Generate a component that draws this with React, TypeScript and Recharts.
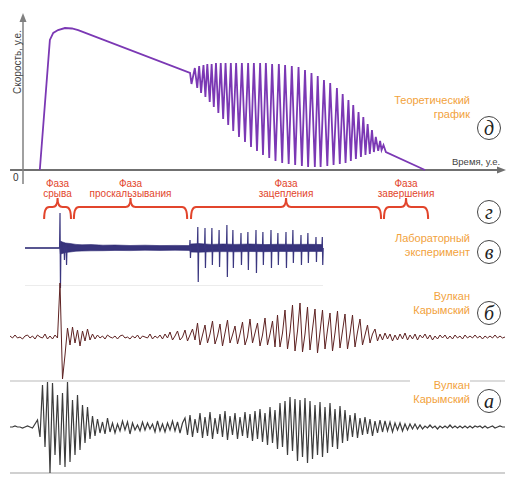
import React from "react";
import {
  LineChart,
  ComposedChart,
  Line,
  Area,
  XAxis,
  YAxis,
  ReferenceLine,
  ReferenceDot,
  ReferenceArea,
} from "recharts";

// (д) theoretical graph, time / speed in arbitrary units
const theoryTime = [
  3.5, 5.6, 6.3, 7.3, 8.75, 10.2, 11.5, 34.8, 35.1,
  35.8, 36.3, 36.7, 37.1, 37.6, 38.0, 38.4, 38.9, 39.3, 39.75,
  40.2, 40.7, 41.2, 41.7, 42.2, 42.75, 43.3, 43.8, 44.4, 45.0,
  45.6, 46.25, 46.9, 47.5, 48.1, 48.75, 49.4, 50.0, 50.6, 51.3,
  51.9, 52.6, 53.3, 54.0, 54.6, 55.35, 56.0, 56.7, 57.4, 58.1,
  58.75, 59.4, 60.1, 60.8, 61.4, 62.0, 62.7, 63.4, 64.0, 64.7,
  65.4, 66.0, 66.6, 67.2, 67.8, 68.3, 68.8, 69.35, 69.9, 70.4,
  70.9, 71.35, 71.8, 72.25, 72.7, 73.1, 73.5, 74.0, 74.4, 74.7,
  75.1, 75.6, 83.75,
];
const theorySpeed = [
  0, 83.9, 88.4, 90.3, 91.6, 91.3, 90.3, 62.6, 55.5,
  65.8, 52.9, 67.1, 49.7, 67.7, 47.1, 68.4, 43.9, 68.4, 40.6,
  69.0, 36.8, 69.0, 32.9, 69.0, 29.0, 69.0, 25.2, 69.0, 21.3,
  69.0, 18.1, 69.0, 14.8, 69.0, 12.3, 69.0, 9.7, 69.0, 7.7,
  68.4, 5.8, 68.4, 4.5, 67.7, 3.9, 67.1, 3.2, 66.5, 2.6,
  64.5, 1.9, 62.6, 1.9, 60.6, 1.9, 58.1, 2.6, 56.1, 3.2,
  52.9, 3.9, 49.0, 4.5, 45.2, 5.8, 41.9, 7.1, 37.4, 8.4,
  34.2, 9.7, 29.7, 10.3, 25.8, 11.6, 21.3, 12.3, 18.7, 12.9,
  16.1, 11.6, 0,
];

// (г) phases on the same time scale
const phaseNames = ["срыва", "проскальзывания", "зацепления", "завершения"];
const phaseStart = [4.4, 10.6, 35.0, 75.2];
const phaseEnd = [10.0, 34.2, 74.6, 84.4];

// (в) lab experiment: noise envelope + spikes
const labBandTime = [0, 11.6, 11.8, 12.5, 13.5, 15, 17, 19, 22, 26, 30, 35, 40, 45, 50, 54.8, 55.2, 58, 62, 66, 70, 75, 80, 85, 90, 95, 99.3];
const labBandHigh = [0.5, 0.5, 7, 6, 5, 4.5, 3.6, 3.2, 3.4, 2.8, 3, 2.5, 2.8, 2.4, 2.6, 2.4, 4, 4.4, 3.6, 4, 3.6, 4, 3.4, 3.8, 3.6, 3.7, 3.4];
const labBandLow = [-0.5, -0.5, -6, -5.5, -4.5, -4, -3.2, -3, -2.8, -2.7, -2.4, -2.6, -2.2, -2.4, -2.2, -2.4, -4, -4.2, -3.8, -3.6, -3.8, -3.5, -3.7, -3.4, -3.6, -3.4, -3.4];
const labSpikeTime = [11.67, 13.0, 13.7, 55, 57.6, 60, 62.3, 64.7, 67.3, 69.3, 72, 74.3, 77, 79.3, 82, 84.3, 87, 89.3, 92, 94.3, 97, 99.1];
const labSpikeUp = [35, 3, 4, 8, 21, 20, 20, 18, 23, 18, 15, 16, 18, 16, 18, 15, 16, 18, 13, 15, 11, 11];
const labSpikeDown = [-40, -12, -17, -10, -34, -20, -17, -19, -29, -20, -17, -22, -25, -17, -20, -17, -20, -15, -17, -15, -14, -17];

// (б) Karymsky volcano, trace 1
const bPre = [1, -1, 2, -1, 0, -2, 1, 2, -1, 1, -2, 2, 0, -1, 3, -2, 1, -2, 2, -1];
const bBurst = [54, -42, -18, 9, -8, 10, -6, 7, -9, 6, -4, 8, -3, 3, -2];
const bQuiet = [2, -1, 1, -2, 2, 0, -1, 1, -2, 1, 2, -1, 0, -2, 1, -1, 2, -2, 1, 0, -1, 3, -2, 1, -1, 2, -2, 3, -1];
const bRise = [5, -3, 1, 6, -3, 0, 7, -4, 2, 8, -3];
const bGrow = [14, -8, 2, 12, -6, 3, 16, -7, 1, 13, -9, 4, 17, -6, 2, 11, -7, 3, 15, -8, 0, 18, -6, 4, 14, -9, 2, 19, -8, 3, 16, -10];
const bPeak = [22, -10, 4, 27, -12, 5, 32, -14, 6, 34, -15, 3, 30, -13, 8, 28, -16, 5, 27, -12, 7, 24, -14, 4, 26, -11, 6, 23, -12, 3, 22, -10, 5, 18, -8, 2, 12, -6, 3, 8];
const bTail = [-4, 3, -3, 4, -2, 3, -4, 2, -3, 3, -2, 4, -3, 2, -2, 3, -3, 2, -1, 3, -2, 2, -3, 1, -2, 2, -1, 2, -2, 1, -2, 2, -1, 1, -2, 2, -1, 1, -1, 2, -1, 1, -2, 1, -1, 1, -1, 2, -1, 1, -1, 0];

// (а) Karymsky volcano, trace 2
const aPre = [0, 0, 1, 0, 0, -1, 0, 1, 0, -1, 3];
const aBurst = [7, -10, 42, -20, 45, -46, 44, -28, 32, -38, 34, -40, 45, -35, 27, -28, 32, -23, 22, -16, 20, -12, 11, -9];
const aCoda = [8, -6, 5, -7, 9, -5, 4, -6, 3, -4, 6, -3, 5, -7, 4, -3, 2, -4, 5, -3, 4, -2, 3, -5, 6, -4, 3, -5, 4, -3, 6, -4, 5, -6, 4];
const aMid = [9, -8, 12, -10, 8, -6, 14, -11, 10, -9, 15, -12, 9, -7, 13, -10, 16, -13, 11, -8, 14, -12, 10, -9, 15, -11, 13];
const aMain = [-14, 16, -12, 18, -15, 14, -18, 20, -16, 17, -22, 24, -20, 26, -28, 30, -24, 28, -34, 27, -30, 29, -36, 26, -32, 22, -28, 25, -30, 20, -26, 24, -20, 18, -22, 21, -16, 17];
const aDecay = [-14, 12, -10, 14, -11, 9, -8, 10, -7, 8, -9, 6, -6, 7, -5, 6, -4, 5, -5, 4, -3, 4, -4, 3, -3, 3, -2, 3, -2, 2];
const aTail = [-2, 1, -1, 2, -1, 1, -2, 1, -1, 1, -1, 2, -1, 1, -1, 1, -1, 1, -1, 1, -1, 1, 0, 1, -1, 1, -1, 0, 1, -1, 0, 1, 0, 0];

const RED = "#e2452c";
const ORANGE = "#f2a23c";
const PURPLE = "#7b38b4";

const theoryRows = theoryTime.map((t, i) => ({ t, v: theorySpeed[i] }));
const labBandRows = labBandTime.map((t, i) => ({ t, band: [labBandLow[i], labBandHigh[i]] }));
const labSpikeRows = labSpikeTime.flatMap((t, k) => [
  { t: t - 0.15, v: 0 },
  { t, v: labSpikeUp[k] },
  { t: t + 0.15, v: labSpikeDown[k] },
  { t: t + 0.3, v: 0 },
]);
const traceB = [...bPre, ...bBurst, ...bQuiet, ...bRise, ...bGrow, ...bPeak, ...bTail].map((v, i) => ({ i, v }));
const traceA = [...aPre, ...aBurst, ...aCoda, ...aMid, ...aMain, ...aDecay, ...aTail].map((v, i) => ({ i, v }));

const abs = (left: number, top: number): React.CSSProperties => ({ position: "absolute", left, top });

const ArrowRight = (p: any) => (
  <polygon points={`${p.cx - 6},${p.cy - 3.5} ${p.cx + 3},${p.cy} ${p.cx - 6},${p.cy + 3.5}`} fill="#707070" />
);
const ArrowUp = (p: any) => (
  <polygon points={`${p.cx - 3.5},${p.cy + 7} ${p.cx},${p.cy - 2} ${p.cx + 3.5},${p.cy + 7}`} fill="#808080" />
);

const Brace = (p: any) => {
  const { x, y, width, height, name } = p;
  const cx = x + width / 2;
  const top = y + 9;
  const bot = y + height;
  const d = `M${x},${bot} Q${x},${top} ${x + 5},${top} L${cx - 5},${top} Q${cx},${top} ${cx},${y} Q${cx},${top} ${cx + 5},${top} L${x + width - 5},${top} Q${x + width},${top} ${x + width},${bot}`;
  return (
    <g>
      <path d={d} fill="none" stroke={RED} strokeWidth={2} />
      <text x={cx} y={y - 11} textAnchor="middle" fontSize={10} fill={RED} fontFamily="Liberation Sans, Arial, sans-serif">
        Фаза
      </text>
      <text x={cx} y={y - 1} textAnchor="middle" fontSize={10} fill={RED} fontFamily="Liberation Sans, Arial, sans-serif">
        {name}
      </text>
    </g>
  );
};

const Circled = ({ letter, cx, cy }: { letter: string; cx: number; cy: number }) => (
  <div
    style={{
      ...abs(cx - 12, cy - 12),
      width: 22,
      height: 22,
      border: "1px solid #444",
      borderRadius: "50%",
      background: "#fff",
      display: "flex",
      alignItems: "center",
      justifyContent: "center",
      fontFamily: "Liberation Serif, serif",
      fontStyle: "italic",
      fontSize: 20,
      color: "#222",
      lineHeight: 1,
    }}
  >
    {letter}
  </div>
);

const Caption = ({ lines, top }: { lines: string[]; top: number }) => (
  <div
    style={{
      position: "absolute",
      right: 36,
      top,
      textAlign: "right",
      color: ORANGE,
      fontSize: 11,
      lineHeight: "13.5px",
      background: "#fff",
      paddingLeft: 3,
    }}
  >
    {lines.map((l) => (
      <div key={l}>{l}</div>
    ))}
  </div>
);

export default function App() {
  return (
    <div
      style={{
        position: "absolute",
        left: 0,
        top: 0,
        width: 506,
        height: 478,
        background: "#fff",
        overflow: "hidden",
        fontFamily: "Liberation Sans, Arial, sans-serif",
      }}
    >
      {/* panel separators */}
      <div style={{ ...abs(25, 285), width: 298, height: 1, background: "#ececec" }} />
      <div style={{ ...abs(10, 380), width: 495, height: 2, background: "#dcdcdc" }} />
      <div style={{ ...abs(10, 472), width: 495, height: 2, background: "#d0d0d0" }} />

      {/* (д) theoretical graph */}
      <div style={abs(0, 0)}>
        <LineChart width={506} height={190} data={theoryRows} margin={{ top: 15, right: 3, bottom: 20, left: 23 }}>
          <XAxis type="number" dataKey="t" domain={[0, 100]} hide />
          <YAxis type="number" domain={[0, 100]} hide />
          <ReferenceLine segment={[{ x: -2.7, y: 0 }, { x: 100, y: 0 }]} stroke="#707070" strokeWidth={2} ifOverflow="visible" />
          <ReferenceLine segment={[{ x: 0, y: -9 }, { x: 0, y: 99 }]} stroke="#808080" strokeWidth={1.5} ifOverflow="visible" />
          <ReferenceDot x={100} y={0} r={3} ifOverflow="visible" shape={ArrowRight} />
          <ReferenceDot x={0} y={100} r={3} ifOverflow="visible" shape={ArrowUp} />
          <Line type="linear" dataKey="v" stroke={PURPLE} strokeWidth={1.8} dot={false} activeDot={false} isAnimationActive={false} />
        </LineChart>
      </div>
      <div
        style={{
          ...abs(11, 62),
          transform: "translate(-50%, -50%) rotate(-90deg)",
          transformOrigin: "center",
          fontSize: 10,
          color: "#444",
          whiteSpace: "nowrap",
          marginLeft: 6,
        }}
      >
        Скорость, у.е.
      </div>
      <div style={{ ...abs(452, 156), fontSize: 9.5, color: "#444", whiteSpace: "nowrap" }}>Время, у.е.</div>
      <div style={{ ...abs(13, 172), fontSize: 10, color: "#333" }}>0</div>

      {/* (г) phases */}
      <div style={abs(0, 170)}>
        <ComposedChart width={506} height={55} data={theoryRows} margin={{ top: 28, right: 3, bottom: 6, left: 23 }}>
          <XAxis type="number" dataKey="t" domain={[0, 100]} hide />
          <YAxis type="number" domain={[0, 1]} hide allowDataOverflow />
          {phaseNames.map((name, k) => (
            <ReferenceArea
              key={name}
              x1={phaseStart[k]}
              x2={phaseEnd[k]}
              y1={0}
              y2={1}
              ifOverflow="visible"
              shape={(p: any) => <Brace {...p} name={name} />}
            />
          ))}
        </ComposedChart>
      </div>

      {/* (в) lab experiment */}
      <div style={abs(25, 205)}>
        <ComposedChart width={300} height={85} margin={{ top: 0, right: 0, bottom: 0, left: 0 }}>
          <XAxis type="number" dataKey="t" domain={[0, 100]} hide allowDataOverflow />
          <YAxis type="number" domain={[-42, 43]} hide allowDataOverflow />
          <Area
            data={labBandRows}
            type="linear"
            dataKey="band"
            stroke="#2c2873"
            strokeWidth={0.6}
            fill="#2c2873"
            fillOpacity={0.95}
            dot={false}
            activeDot={false}
            isAnimationActive={false}
          />
          <Line
            data={labSpikeRows}
            type="linear"
            dataKey="v"
            stroke="#3a367f"
            strokeWidth={1.2}
            dot={false}
            activeDot={false}
            isAnimationActive={false}
          />
        </ComposedChart>
      </div>

      {/* (б) volcano trace */}
      <div style={abs(10, 280)}>
        <LineChart width={495} height={100} data={traceB} margin={{ top: 0, right: 0, bottom: 0, left: 0 }}>
          <XAxis type="number" dataKey="i" domain={[0, traceB.length - 1]} hide />
          <YAxis type="number" domain={[-43, 57]} hide allowDataOverflow />
          <Line type="linear" dataKey="v" stroke="#5e2222" strokeWidth={1} dot={false} activeDot={false} isAnimationActive={false} />
        </LineChart>
      </div>

      {/* (а) volcano trace */}
      <div style={abs(10, 378)}>
        <LineChart width={495} height={98} data={traceA} margin={{ top: 0, right: 0, bottom: 0, left: 0 }}>
          <XAxis type="number" dataKey="i" domain={[0, traceA.length - 1]} hide />
          <YAxis type="number" domain={[-49, 49]} hide allowDataOverflow />
          <Line type="linear" dataKey="v" stroke="#3c3c3c" strokeWidth={1.2} dot={false} activeDot={false} isAnimationActive={false} />
        </LineChart>
      </div>

      <Caption lines={["Теоретический", "график"]} top={94} />
      <Caption lines={["Лабораторный", "эксперимент"]} top={232} />
      <Caption lines={["Вулкан", "Карымский"]} top={290} />
      <Caption lines={["Вулкан", "Карымский"]} top={379} />

      <Circled letter="д" cx={489} cy={128} />
      <Circled letter="г" cx={489} cy={212} />
      <Circled letter="в" cx={489} cy={252} />
      <Circled letter="б" cx={489} cy={313} />
      <Circled letter="а" cx={489} cy={401} />
    </div>
  );
}
